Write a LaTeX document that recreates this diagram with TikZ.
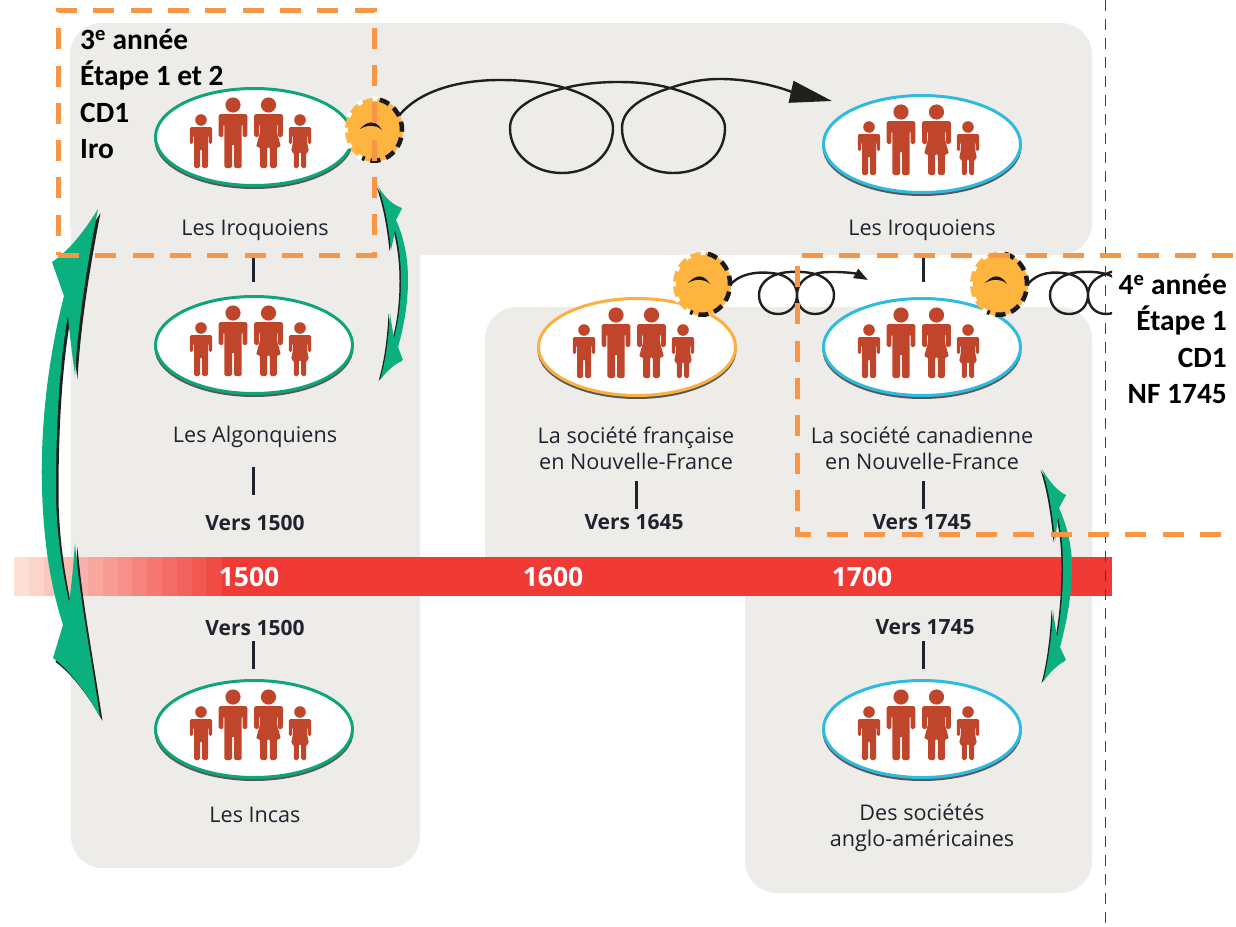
\documentclass[tikz,border=0pt]{standalone}
\usepackage{fontspec}
\setmainfont{Open Sans}
\newfontfamily\calib{Carlito}
\usetikzlibrary{arrows.meta}
\definecolor{panelgray}{HTML}{EDECE9}
\definecolor{barred}{HTML}{F03A35}
\definecolor{barstart}{HTML}{FDE6DC}
\definecolor{arrowgreen}{HTML}{0BB07F}
\definecolor{ringgreen}{HTML}{0DA678}
\definecolor{ringblue}{HTML}{2EBBE0}
\definecolor{ringyellow}{HTML}{FBB040}
\definecolor{gearorange}{HTML}{FDB53F}
\definecolor{dashorange}{HTML}{F79646}
\definecolor{peoplered}{HTML}{BF452B}
\definecolor{inkdark}{HTML}{22222E}
\tikzset{
  panel/.style={fill=panelgray,draw=none,rounded corners=32pt},
  ring/.style={draw=#1,line width=3pt,fill=white},
  lbl/.style={font=\fontsize{21.6}{26}\selectfont,text=inkdark,align=center,inner sep=0pt},
  datelbl/.style={font=\fontsize{21}{26}\selectfont\bfseries,text=inkdark,align=center,inner sep=0pt},
  yearlbl/.style={font=\fontsize{26.5}{28}\selectfont\bfseries,text=white,inner sep=0pt},
  notelbl/.style={font=\calib\fontsize{29.4}{36.3}\selectfont\bfseries,text=black,inner sep=0pt},
  ticksty/.style={draw=inkdark,line width=3pt},
  loopline/.style={draw=black!88,line width=2.4pt},
  orangedash/.style={draw=dashorange,line width=5pt,dash pattern=on 21pt off 16.3pt},
  gearsty/.style={circle,minimum size=58pt,inner sep=0pt,outer sep=0pt},
  figfill/.style={fill=peoplered,rounded corners=1.6pt},
}
\newcommand\fammen{%
  \fill[peoplered] (0,-32) circle[radius=7.6];
  \fill[figfill] (-14.3,-23) -- (14.3,-23) -- (14.3,0) -- (9.6,0) -- (9.6,-13) -- (8.6,-13) -- (8.6,31) -- (1,31) -- (1,7) -- (-1,7) -- (-1,31) -- (-8.6,31) -- (-8.6,-13) -- (-9.6,-13) -- (-9.6,0) -- (-14.3,0) -- cycle;}
\newcommand\famwoman{%
  \fill[peoplered] (0,-32) circle[radius=7.6];
  \fill[figfill] (-14.3,-23) -- (14.3,-23) -- (14.3,0) -- (9.6,0) -- (9.6,-13) -- (8.6,-13) -- (8.6,-4) -- (12.5,10) -- (8.3,10) -- (8.3,31) -- (1.4,31) -- (1.4,10) -- (-1.4,10) -- (-1.4,31) -- (-8.3,31) -- (-8.3,10) -- (-12.5,10) -- (-8.6,-4) -- (-8.6,-13) -- (-9.6,-13) -- (-9.6,0) -- (-14.3,0) -- cycle;}
\newcommand\famboy{%
  \fill[peoplered] (0,-17) circle[radius=5.8];
  \fill[figfill] (-11.2,-10) -- (11.2,-10) -- (11.2,7) -- (7.8,7) -- (7.8,-2) -- (7,-2) -- (7,31) -- (1,31) -- (1,12) -- (-1,12) -- (-1,31) -- (-7,31) -- (-7,-2) -- (-7.8,-2) -- (-7.8,7) -- (-11.2,7) -- cycle;}
\newcommand\famgirl{%
  \fill[peoplered] (0,-17) circle[radius=5.8];
  \fill[figfill] (-11.2,-10) -- (11.2,-10) -- (11.2,7) -- (7.8,7) -- (7.8,-2) -- (7,-2) -- (7,5) -- (9,15) -- (6.2,15) -- (6.2,31) -- (1.2,31) -- (1.2,15) -- (-1.2,15) -- (-1.2,31) -- (-6.2,31) -- (-6.2,15) -- (-9,15) -- (-7,5) -- (-7,-2) -- (-7.8,-2) -- (-7.8,7) -- (-11.2,7) -- cycle;}
% #1 name, #2 x, #3 y, #4 ring colour
\newcommand\family[4]{%
  \fill[black!65] (#2,#3+3) ellipse[x radius=99.5,y radius=49];
  \draw[ring=#4] (#2,#3) ellipse[x radius=98.5,y radius=48.5];
  \node[inner sep=0pt,minimum width=197pt,minimum height=97pt] (#1) at (#2,#3) {};
  \begin{scope}[shift={(#2,#3)}]
    \begin{scope}[shift={(-53,0)}]\famboy\end{scope}
    \begin{scope}[shift={(-21,0)}]\fammen\end{scope}
    \begin{scope}[shift={(14.5,0)}]\famwoman\end{scope}
    \begin{scope}[shift={(46,0)}]\famgirl\end{scope}
  \end{scope}}
% #1 name, #2 x, #3 y
\newcommand\gear[3]{%
  \node[gearsty] (#1) at (#2,#3) {};
  \begin{scope}[shift={(#2,#3)},yscale=1.1]
    \fill[gearorange] (0,0) circle[radius=29];
    \draw[white,line width=4.5pt,dash pattern=on 5pt off 11pt] (115:28.5) arc[start angle=115,end angle=285,radius=28.5];
    \draw[black!90,line width=4.5pt,dash pattern=on 10pt off 6pt] (-78:28) arc[start angle=-78,end angle=115,radius=28];
    \fill[black!90] (-14,-1) .. controls (-6,-9) and (2,-9) .. (8,0) .. controls (2,-5) and (-6,-5) .. (-14,-1) -- cycle;
  \end{scope}}
\newcommand\ticksegment[4]{%
  \coordinate (#1a) at (#2,#3);
  \coordinate (#1b) at (#2,#4);
  \draw[ticksty] (#1a) -- (#1b);}
\newcommand\greenarrow[2]{%
  \fill[black!88,shift={#1}] #2;
  \fill[arrowgreen] #2;}
\begin{document}
\begin{tikzpicture}[x=1pt,y=-1pt]
\useasboundingbox (0,0) rectangle (1236,926);
\fill[white] (0,0) rectangle (1236,926);
% panels
\path[panel] (70,23) rectangle (1092,255);
\path[panel] (71,100) rectangle (420,868);
\path[panel] (745,400) rectangle (1092,893);
\begin{scope}
\clip (400,290) rectangle (1100,557);
\path[panel] (485,307) rectangle (1092,640);
\end{scope}
% time bar
\fill[barred] (210,557) rectangle (1112,596);
\foreach \i in {0,...,13}{
  \pgfmathsetmacro{\xa}{14+\i*14.8}
  \pgfmathsetmacro{\xb}{\xa+15.2}
  \pgfmathsetmacro{\pc}{4+\i*6.6}
  \fill[barred!\pc!barstart] (\xa,557) rectangle (\xb,596);
}
\draw[black!75,line width=1pt,dash pattern=on 11pt off 8pt] (1105,0) -- (1105,926);
\node[yearlbl] (y1500) at (249,577) {1500};
\node[yearlbl] (y1600) at (553,577) {1600};
\node[yearlbl] (y1700) at (862,577) {1700};
% families
\family{iroL}{254}{137}{ringgreen}
\family{algo}{254}{345}{ringgreen}
\family{inca}{254}{729}{ringgreen}
\family{iroR}{922}{144}{ringblue}
\family{fran}{637}{347}{ringyellow}
\family{cana}{922}{347}{ringblue}
\family{angl}{922}{729}{ringblue}
% labels
\node[lbl] (lIroL) at (255,230.5) {Les Iroquoiens};
\node[lbl] (lAlgo) at (255,436.5) {Les Algonquiens};
\node[lbl] (lInca) at (255,815) {Les Incas};
\node[lbl] (lIroR) at (922,230.5) {Les Iroquoiens};
\node[lbl] (lFran) at (636,448) {La société française\\en Nouvelle-France};
\node[lbl] (lCana) at (922,448) {La société canadienne\\en Nouvelle-France};
\node[lbl] (lAngl) at (922,828) {Des sociétés\\anglo-américaines};
\node[datelbl] (d1) at (255,522.5) {Vers 1500};
\node[datelbl] (d2) at (255,627.5) {Vers 1500};
\node[datelbl] (d3) at (634,522.5) {Vers 1645};
\node[datelbl] (d4) at (922,522.5) {Vers 1745};
\node[datelbl] (d5) at (925,627.5) {Vers 1745};
% ticks
\ticksegment{ta}{253}{257}{282}
\ticksegment{tb}{253}{467}{495}
\ticksegment{tc}{253}{641}{669}
\ticksegment{td}{636}{481}{509}
\ticksegment{te}{923}{481}{509}
\ticksegment{tf}{923}{257}{282}
\ticksegment{tg}{923}{641}{669}
% gears
\gear{gA}{374}{130}
\gear{gB}{702}{284}
\gear{gC}{999}{284}
% spirals
\coordinate (tipA) at (832,101);
\coordinate (tipB) at (868,280);
\draw[loopline,-{Triangle[length=42pt,width=22pt]}] (gA.30) .. controls (420,90) and (460,80) .. (500,80) .. controls (525,80) and (548,83) .. (565,88) .. controls (592,96) and (613,110) .. (613,128) .. controls (613,153) and (592,173) .. (562,173) .. controls (532,173) and (510,153) .. (510,128) .. controls (510,108) and (535,95) .. (565,88) .. controls (580,84) and (600,82) .. (617,82) .. controls (640,82) and (655,84) .. (670,88) .. controls (700,96) and (725,110) .. (725,128) .. controls (725,155) and (703,173) .. (673,173) .. controls (645,173) and (622,155) .. (622,128) .. controls (622,108) and (645,96) .. (670,88) .. controls (685,83) and (700,79) .. (720,79) .. controls (760,79) and (792,92) .. (tipA);
\draw[loopline,-{Triangle[length=14pt,width=10pt]}] (gB.east) .. controls (742,272) and (762,271) .. (778,274) .. controls (790,277) and (797,285) .. (797,295) .. controls (797,306) and (789,314) .. (778,314) .. controls (767,314) and (759,306) .. (759,295) .. controls (759,285) and (767,277) .. (778,274) .. controls (787,271) and (804,271) .. (815,274) .. controls (826,277) and (834,285) .. (834,295) .. controls (834,306) and (826,314) .. (815,314) .. controls (804,314) and (797,306) .. (797,295) .. controls (797,285) and (804,277) .. (815,274) .. controls (825,270) and (855,273) .. (tipB);
\begin{scope}
\clip (1000,240) rectangle (1112,330);
\draw[loopline] (gC.east) .. controls (1038,272) and (1053,271) .. (1069,274) .. controls (1081,277) and (1088,285) .. (1088,295) .. controls (1088,306) and (1080,314) .. (1069,314) .. controls (1058,314) and (1050,306) .. (1050,295) .. controls (1050,285) and (1058,277) .. (1069,274) .. controls (1078,271) and (1095,271) .. (1106,274) .. controls (1117,277) and (1125,285) .. (1125,295) .. controls (1125,306) and (1117,314) .. (1106,314) .. controls (1095,314) and (1088,306) .. (1088,295) .. controls (1088,285) and (1095,277) .. (1106,274) .. controls (1110,272) and (1114,271) .. (1118,271);
\end{scope}
% green arrows
\greenarrow{(2.5,4)}{(98,209) .. controls (85,230) and (70,250) .. (52,262) -- (64,296) .. controls (50,350) and (40,420) .. (42,490) .. controls (44,550) and (52,590) .. (63,625) -- (53,658) .. controls (70,670) and (88,695) .. (100,717) .. controls (90,650) and (80,600) .. (75,543) .. controls (73,570) and (71,590) .. (69,602) .. controls (62,570) and (56,530) .. (56,490) .. controls (56,420) and (60,360) .. (68,315) .. controls (70,340) and (73,360) .. (75,375) .. controls (78,320) and (88,260) .. (98,209) -- cycle}
\greenarrow{(-1.5,1)}{(378,186) .. controls (385,198) and (393,205) .. (402,208) -- (396,220) .. controls (405,240) and (408,260) .. (408,280) .. controls (408,305) and (403,330) .. (398,347) -- (403,360) .. controls (395,363) and (386,372) .. (380,380) .. controls (386,360) and (389,335) .. (390,313) .. controls (391,322) and (393,332) .. (394,338) .. controls (399,320) and (401,300) .. (401,280) .. controls (401,262) and (399,245) .. (395,230) .. controls (394,237) and (392,245) .. (391,250) .. controls (389,230) and (385,205) .. (378,186) -- cycle}
\greenarrow{(-1.5,1)}{(1042,469) .. controls (1049,481) and (1057,491) .. (1066,495) -- (1059,508) .. controls (1068,528) and (1072,548) .. (1072,567) .. controls (1072,595) and (1066,625) .. (1060,647) -- (1066,660) .. controls (1058,664) and (1049,673) .. (1043,682) .. controls (1049,660) and (1052,632) .. (1053,609) .. controls (1054,620) and (1056,630) .. (1057,637) .. controls (1061,615) and (1063,590) .. (1063,567) .. controls (1063,548) and (1061,530) .. (1058,517) .. controls (1057,525) and (1056,535) .. (1055,541) .. controls (1053,518) and (1049,490) .. (1042,469) -- cycle}
% notes
\node[notelbl,anchor=north west,align=left] (note3) at (80,29) {3\textsuperscript{e} année\\Étape 1 et 2\\CD1\\Iro};
\node[notelbl,anchor=north east,align=right] (note4) at (1227,274) {4\textsuperscript{e} année\\Étape 1\\CD1\\NF 1745};
% orange dashed frames
\draw[orangedash] (58,255) -- (374,255) -- (374,10) -- (58,10) -- (58,255);
\draw[orangedash] (802,255) -- (1236,255);
\draw[orangedash] (797,266) -- (797,534.5) -- (1236,534.5);
\end{tikzpicture}
\end{document}
